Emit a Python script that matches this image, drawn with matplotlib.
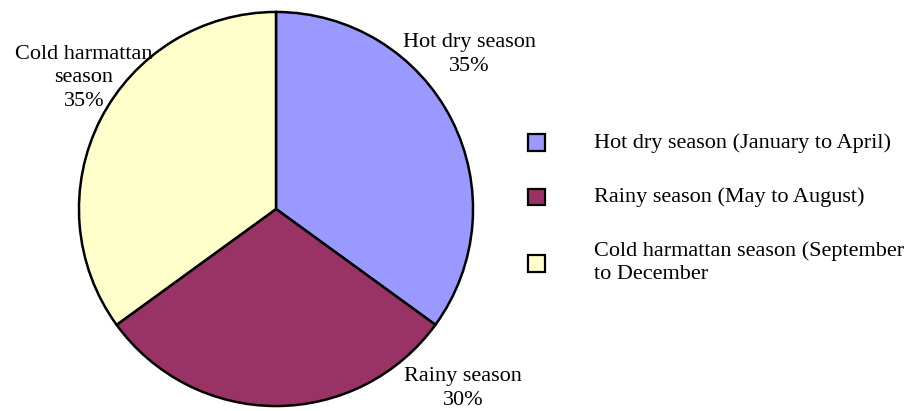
import matplotlib.pyplot as plt
from matplotlib.patches import Rectangle

# season shares (%)
seasons = ['Hot dry season', 'Rainy season', 'Cold harmattan\nseason']
shares = [35, 30, 35]
legend_labels = ['Hot dry season (January to April)',
                 'Rainy season (May to August)',
                 'Cold harmattan season (September\nto December']
colors = ['#9999FF', '#993366', '#FFFFCC']

plt.rcParams['font.family'] = ['Liberation Serif', 'DejaVu Serif']

W, H = 908, 411
fig = plt.figure(figsize=(W / 100, H / 100), dpi=100)
ax = fig.add_axes([75 / W, 3 / H, 402 / W, 398 / H])

wedges, _ = ax.pie(shares, colors=colors, startangle=90, counterclock=False,
                   wedgeprops=dict(edgecolor='black', linewidth=1.8))
ax.set_xlim(-1.01, 1.01)
ax.set_ylim(-1.01, 1.01)

# outside labels, placed by hand like the original
label_pos = [(0.98, 0.785), (0.95, -0.91), (-0.975, 0.665)]
for name, val, (x, y) in zip(seasons, shares, label_pos):
    ax.text(x, y, f'{name}\n{val}%', ha='center', va='center',
            fontsize=16, linespacing=1.35, clip_on=False)

# legend drawn by hand (boxes far from text, as in the original)
row_y = [143, 197, 263]  # pixel rows from the top
box = 17
for w, lab, y in zip(wedges, legend_labels, row_y):
    fig.patches.append(Rectangle((528 / W, 1 - (y + box / 2) / H), box / W, box / H,
                                 transform=fig.transFigure,
                                 facecolor=w.get_facecolor(), edgecolor='black',
                                 linewidth=1.6))
    fig.text(594 / W, 1 - y / H, lab, ha='left', va='center',
             fontsize=16, linespacing=1.3)

fig.savefig('out.png', dpi=100)
